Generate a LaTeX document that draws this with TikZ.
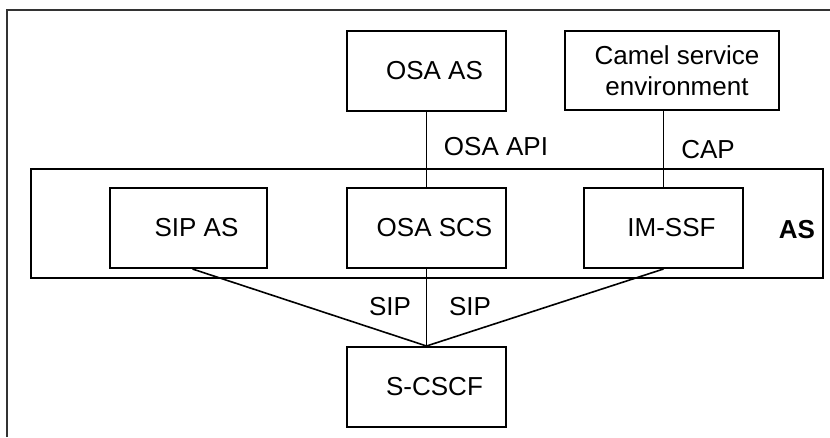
\documentclass[tikz,border=0pt]{standalone}
\usepackage{fontspec}
\setmainfont{Liberation Sans}
\begin{document}
\begin{tikzpicture}[x=1pt,y=-1pt,
  every node/.style={font=\fontsize{26}{31}\selectfont},
  box/.style={draw, line width=2pt, minimum width=159pt, minimum height=80pt, inner sep=0pt,
    execute at begin node={\hspace*{16pt}}},
  conn/.style={line width=1.6pt},
  tag/.style={inner sep=0pt}]
\useasboundingbox (0,0) rectangle (830,437);
% page frame
\draw[line width=1.8pt, black!80] (7,437) -- (7,10) -- (830,10);
% application server enclosure
\node[draw, line width=2pt, minimum width=792pt, minimum height=109pt, inner sep=0pt] (as) at (427,223.5) {};
\node[tag, font=\fontsize{26}{31}\selectfont\bfseries] (aslbl) at (797,230) {AS};
% boxes
\node[box] (osaas) at (426.5,70.5) {OSA AS};
\node[draw, line width=2pt, minimum width=214pt, minimum height=79pt, inner sep=0pt, align=center] (camel) at (672,70.5) {\hspace*{10pt}Camel service\\\hspace*{10pt}environment};
\node[box, minimum width=157pt] (sipas) at (188.5,228) {SIP AS};
\node[box] (osascs) at (426.5,228) {OSA SCS};
\node[box] (imssf) at (663.5,228) {IM-SSF};
\node[box] (scscf) at (426.5,387) {S-CSCF};
% connectors
\draw[conn] (osaas.south) -- (osascs.north);
\draw[conn] (camel.south -| imssf.north) -- (imssf.north);
\draw[conn] (osascs.south) -- (scscf.north);
\draw[conn] ([xshift=4pt]sipas.south) -- (scscf.north);
\draw[conn] (imssf.south) -- (scscf.north);
% interface labels
\node[tag] (lapi) at (496,147) {OSA API};
\node[tag] (lcap) at (708,150) {CAP};
\node[tag] (lsip1) at (390,307) {SIP};
\node[tag] (lsip2) at (470,307) {SIP};
\end{tikzpicture}
\end{document}
